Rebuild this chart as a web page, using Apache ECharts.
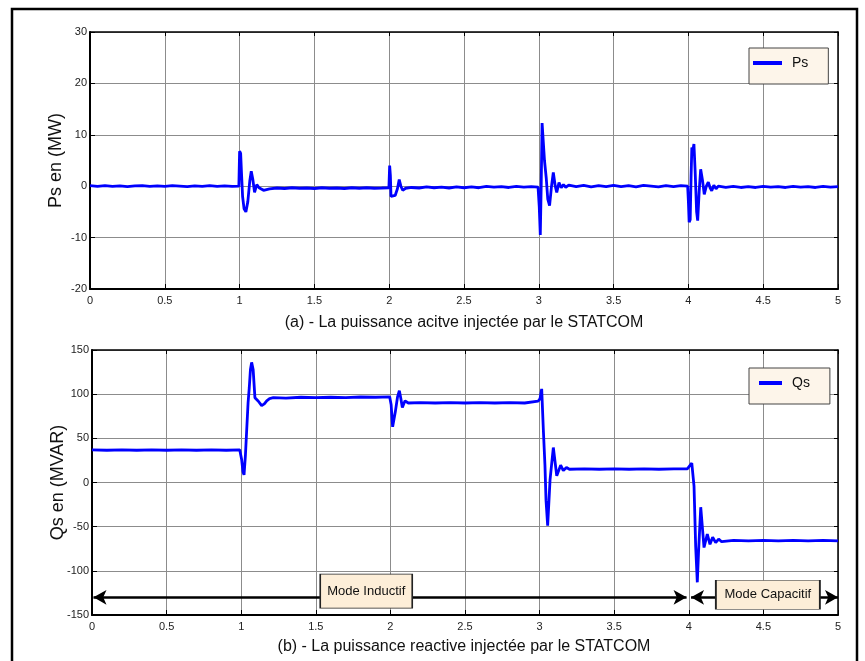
<!DOCTYPE html>
<html>
<head>
<meta charset="utf-8">
<script src="https://cdn.jsdelivr.net/npm/echarts@6/dist/echarts.min.js"></script>
<style>
html,body{margin:0;padding:0;background:#fff;}
#chart{width:865px;height:661px;}
</style>
</head>
<body>
<div id="chart"></div>
<script>
// ---- Data ----
const xTicks = { min: 0, max: 5, interval: 0.5 };
const psTicks = { min: -20, max: 30, interval: 10 };
const qsTicks = { min: -150, max: 150, interval: 50 };

// Active power Ps (MW) vs time (s)
const ps = [
  [0,0.1],[0.05,-0.05],[0.1,0.1],[0.15,-0.05],[0.2,0.05],[0.25,-0.1],[0.3,0.05],[0.35,0.1],[0.4,-0.05],[0.45,0.05],
  [0.5,-0.05],[0.55,0.1],[0.6,0],[0.65,-0.1],[0.7,0.05],[0.75,-0.05],[0.8,0.1],[0.85,-0.05],[0.9,0.05],[0.95,-0.05],[0.995,0],
  [1.0,6.8],[1.007,6.4],[1.012,3],[1.02,-2],[1.03,-4.4],[1.042,-5],[1.055,-3],[1.068,1],[1.078,2.9],[1.088,1.4],
  [1.1,-1.2],[1.115,0.3],[1.13,-0.3],[1.16,-0.8],[1.2,-0.5],
  [1.25,-0.35],[1.3,-0.45],[1.35,-0.3],[1.4,-0.4],[1.45,-0.35],[1.5,-0.45],[1.55,-0.3],[1.6,-0.4],[1.65,-0.35],[1.7,-0.45],
  [1.75,-0.3],[1.8,-0.4],[1.85,-0.3],[1.9,-0.4],[1.95,-0.35],[1.998,-0.3],
  [2.003,4],[2.008,2],[2.012,-2],[2.025,-2.2],[2.04,-1.8],[2.055,-0.5],[2.067,1.3],[2.078,0],[2.09,-0.8],[2.11,-0.4],
  [2.15,-0.25],[2.2,-0.35],[2.25,-0.15],[2.3,-0.3],[2.35,-0.2],[2.4,-0.35],[2.45,-0.15],[2.5,-0.3],[2.55,-0.15],[2.6,-0.3],
  [2.65,-0.05],[2.7,-0.2],[2.75,-0.1],[2.8,-0.25],[2.85,-0.05],[2.9,-0.2],[2.95,-0.1],[2.995,-0.2],
  [3.003,-4],[3.01,-9.5],[3.016,0],[3.022,12.3],[3.03,12],[3.038,5],[3.05,1.5],[3.06,-2.5],[3.072,-3.8],[3.085,0],
  [3.097,2.7],[3.11,0],[3.12,-1.2],[3.135,0.7],[3.15,-0.3],[3.165,0.3],[3.18,-0.2],[3.2,0.2],
  [3.25,-0.1],[3.3,0.15],[3.35,-0.15],[3.4,0.1],[3.45,-0.1],[3.5,0.15],[3.55,-0.1],[3.6,0.1],[3.65,-0.15],[3.7,0.15],
  [3.75,0],[3.8,-0.15],[3.85,0.1],[3.9,-0.1],[3.95,0.1],[3.995,0],
  [4.0,-3],[4.005,-7],[4.012,-6.5],[4.018,2],[4.023,7.5],[4.03,7],[4.037,8.2],[4.045,3],[4.055,-5],[4.062,-6.7],
  [4.072,-1],[4.082,3.3],[4.095,1],[4.106,-1.6],[4.12,0],[4.133,0.8],[4.145,-0.3],[4.156,-0.9],[4.17,0.2],[4.185,-0.5],[4.2,0],
  [4.25,-0.25],[4.3,-0.05],[4.35,-0.25],[4.4,-0.1],[4.45,-0.25],[4.5,-0.05],[4.55,-0.2],[4.6,-0.1],[4.65,-0.25],[4.7,-0.05],
  [4.75,-0.2],[4.8,-0.1],[4.85,-0.25],[4.9,-0.05],[4.95,-0.2],[5,-0.1]
];

// Reactive power Qs (MVAR) vs time (s)
const qs = [
  [0,37],[0.1,36.5],[0.2,37],[0.3,36.5],[0.4,37],[0.5,36.5],[0.6,37],[0.7,36.5],[0.8,37],[0.9,36.5],[0.99,37],
  [1.003,26],[1.012,12],[1.019,8.6],[1.028,30],[1.037,60],[1.046,90],[1.054,107],[1.062,128],[1.07,136],[1.08,128],
  [1.092,96],[1.115,92],[1.137,87],[1.155,89],[1.171,92.5],[1.19,95],[1.215,96],
  [1.3,95.5],[1.4,96.5],[1.5,96],[1.6,96.5],[1.7,96],[1.8,96.8],[1.9,96.5],[1.995,97],
  [2.005,88],[2.015,63],[2.033,80],[2.048,97],[2.06,104],[2.07,95],[2.08,85],[2.098,92.5],[2.12,90],
  [2.2,90.5],[2.3,90],[2.4,90.5],[2.5,90],[2.6,90.5],[2.7,90],[2.8,90.5],[2.9,90],[2.99,92],
  [3.003,95],[3.014,106],[3.025,60],[3.036,19],[3.043,-20],[3.054,-49],[3.07,3],[3.092,39.6],[3.115,7.5],[3.141,19.6],
  [3.159,13.5],[3.18,17],[3.2,15],
  [3.3,15.5],[3.4,15],[3.5,15.5],[3.6,15],[3.7,15.5],[3.8,15],[3.9,15.5],[3.99,15.5],
  [4.02,22],[4.035,-4],[4.046,-72],[4.057,-113],[4.065,-80],[4.08,-28],[4.102,-73.6],[4.124,-58.5],[4.142,-70],[4.16,-62],
  [4.18,-68],[4.2,-64],[4.22,-67],
  [4.3,-65.5],[4.4,-66],[4.5,-65.5],[4.6,-66],[4.7,-65.5],[4.8,-66],[4.9,-65.5],[5,-66]
];

// Annotations (data coordinates)
const arrowY = -130;
const modeRanges = [[0.01, 3.985], [4.015, 5]];
const modeLabels = [
  { name: 'Mode Inductif', coord: [1.838, -123] },
  { name: 'Mode Capacitif', coord: [4.53, -127] }
];
const captions = [
  '(a) - La puissance acitve injectée par le STATCOM',
  '(b) - La puissance reactive injectée par le STATCOM'
];

// ---- Chart ----
const FONT = 'Liberation Sans, Arial, sans-serif';
const chart = echarts.init(document.getElementById('chart'), null, { renderer: 'canvas' });

function xAxisPair(gridIndex) {
  const base = {
    type: 'value', gridIndex, min: xTicks.min, max: xTicks.max, interval: xTicks.interval
  };
  return [
    Object.assign({}, base, {
      position: 'bottom',
      axisLine: { show: true, onZero: false, lineStyle: { color: '#000', width: 2 } },
      axisTick: { show: true, inside: true, length: 5, lineStyle: { color: '#000' } },
      axisLabel: { color: '#222', fontSize: 11, fontFamily: FONT, margin: 6 },
      splitLine: { show: true, lineStyle: { color: '#8c8c8c', width: 1 } }
    }),
    Object.assign({}, base, {
      position: 'top',
      axisLine: { show: true, onZero: false, lineStyle: { color: '#000', width: 1.5 } },
      axisTick: { show: true, inside: true, length: 4, lineStyle: { color: '#000' } },
      axisLabel: { show: false },
      splitLine: { show: false }
    })
  ];
}
function yAxisPair(gridIndex, t, name) {
  const base = { type: 'value', gridIndex, min: t.min, max: t.max, interval: t.interval };
  return [
    Object.assign({}, base, {
      position: 'left',
      name, nameLocation: 'middle', nameGap: 25, nameMoveOverlap: false,
      nameTextStyle: { color: '#111', fontSize: 18, fontFamily: FONT },
      axisLine: { show: true, onZero: false, lineStyle: { color: '#000', width: 2 } },
      axisTick: { show: true, inside: true, length: 5, lineStyle: { color: '#000' } },
      axisLabel: { color: '#222', fontSize: 11, fontFamily: FONT, margin: 3 },
      splitLine: { show: true, lineStyle: { color: '#8c8c8c', width: 1 } }
    }),
    Object.assign({}, base, {
      position: 'right',
      axisLine: { show: true, onZero: false, lineStyle: { color: '#000', width: 1.5 } },
      axisTick: { show: true, inside: true, length: 4, lineStyle: { color: '#000' } },
      axisLabel: { show: false },
      splitLine: { show: false }
    })
  ];
}

const legendBase = {
  orient: 'vertical',
  backgroundColor: '#fdf5ea',
  borderColor: '#444',
  borderWidth: 1,
  borderRadius: 0,
  icon: 'rect',
  itemHeight: 4,
  textStyle: { color: '#111', fontSize: 14, fontFamily: FONT, padding: [0, 0, 0, 5] }
};

const option = {
  backgroundColor: '#fff',
  animation: false,
  title: [
    { text: captions[0], left: 464, top: 315, textAlign: 'center', padding: 0,
      textStyle: { fontSize: 16, fontWeight: 'normal', color: '#111', fontFamily: FONT } },
    { text: captions[1], left: 464, top: 639, textAlign: 'center', padding: 0,
      textStyle: { fontSize: 16, fontWeight: 'normal', color: '#111', fontFamily: FONT } }
  ],
  grid: [
    { left: 90, right: 27, top: 32, height: 257 },
    { left: 92, right: 27, top: 350, height: 265 }
  ],
  xAxis: [].concat(xAxisPair(0), xAxisPair(1)),
  yAxis: [].concat(yAxisPair(0, psTicks, 'Ps en (MW)'), yAxisPair(1, qsTicks, 'Qs en (MVAR)')),
  legend: [
    Object.assign({}, legendBase, { data: ['Ps'], left: 749, top: 48, itemWidth: 29,
      padding: [8, 20, 14, 4] }),
    Object.assign({}, legendBase, { data: ['Qs'], left: 749, top: 368, itemWidth: 23,
      padding: [8, 20, 14, 10] })
  ],
  series: [
    {
      name: 'Ps', type: 'line', xAxisIndex: 0, yAxisIndex: 0, data: ps,
      showSymbol: false, symbol: 'none', color: '#0000ff',
      lineStyle: { color: '#0000ff', width: 2.8 }
    },
    {
      name: 'Qs', type: 'line', xAxisIndex: 2, yAxisIndex: 2, data: qs,
      showSymbol: false, symbol: 'none', color: '#0000ff',
      lineStyle: { color: '#0000ff', width: 2.8 },
      markLine: {
        silent: true, animation: false,
        symbol: ['arrow', 'arrow'], symbolSize: [11, 13],
        lineStyle: { color: '#000', width: 2.5, type: 'solid' },
        label: { show: false },
        emphasis: { disabled: true },
        data: modeRanges.map(r => [{ coord: [r[0], arrowY] }, { coord: [r[1], arrowY] }])
      },
      markPoint: {
        silent: true, animation: false,
        symbol: 'rect',
        itemStyle: { color: '#fdeed8', borderColor: '#222', borderWidth: 1 },
        label: { show: true, formatter: '{b}', color: '#111', fontSize: 13, fontFamily: FONT },
        data: [
          Object.assign({}, modeLabels[0], { symbolSize: [92, 34] }),
          Object.assign({}, modeLabels[1], { symbolSize: [104, 29] })
        ]
      }
    }
  ],
  graphic: [
    { type: 'rect', z: 100, silent: true,
      shape: { x: 12, y: 9, width: 845, height: 700 },
      style: { fill: 'none', stroke: '#000', lineWidth: 2.5 } }
  ]
};
chart.setOption(option);
</script>
</body>
</html>
